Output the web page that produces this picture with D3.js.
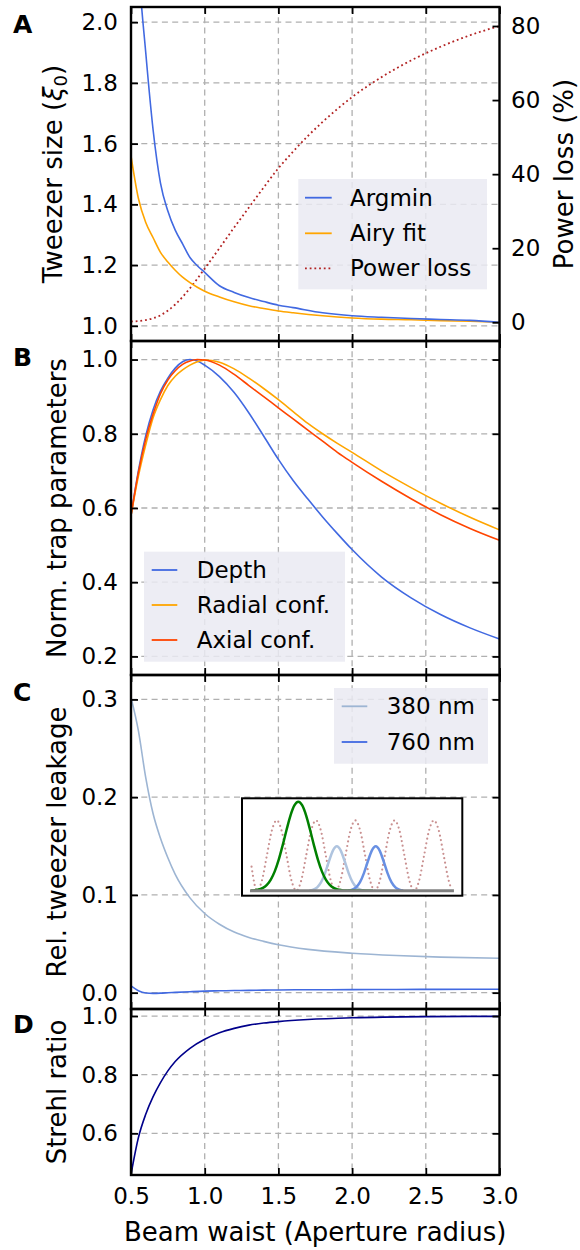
<!DOCTYPE html>
<html>
<head>
<meta charset="utf-8">
<script src="https://cdn.jsdelivr.net/npm/d3@7"></script>
<style>
body{margin:0;background:#fff}
text{font-family:"DejaVu Sans",sans-serif;fill:#000}
</style>
</head>
<body>
<div id="fig"></div>
<script>
let svgWidth = 580;
let svgHeight = 1250;

// shared x values (beam waist, aperture radius units)
let xTicks = [0.5, 1.0, 1.5, 2.0, 2.5, 3.0];

// panel A
let aX = [0.5,0.55,0.6,0.65,0.7,0.75,0.8,0.85,0.9,0.95,1.0,1.1,1.2,1.3,1.4,1.5,1.6,1.8,2.0,2.2,2.4,2.6,2.8,3.0];
let argmin = [2.75,2.2,1.9,1.645,1.47,1.378,1.315,1.27,1.225,1.198,1.176,1.132,1.11,1.093,1.08,1.068,1.06,1.043,1.033,1.028,1.024,1.021,1.018,1.012];
let airyFit = [1.56,1.42,1.34,1.29,1.242,1.21,1.183,1.16,1.142,1.127,1.114,1.095,1.079,1.066,1.057,1.049,1.043,1.033,1.026,1.022,1.02,1.017,1.015,1.012];
let lossX = [0.5,0.6,0.7,0.8,0.9,1.0,1.1,1.2,1.3,1.4,1.5,1.6,1.7,1.8,1.9,2.0,2.2,2.4,2.6,2.8,3.0];
let powerLoss = [0.2,0.6,1.9,4.8,9.2,14.5,20,25.6,31,36.4,41.6,46.1,50.3,54.1,57.6,60.8,66.2,70.7,74.4,77.5,80];

// panel B
let bX = [0.5,0.55,0.6,0.65,0.7,0.75,0.8,0.85,0.9,0.95,1.0,1.1,1.2,1.3,1.4,1.5,1.6,1.7,1.8,1.9,2.0,2.2,2.4,2.6,2.8,3.0];
let depth = [0.58,0.70,0.795,0.865,0.915,0.95,0.977,0.994,1.0,0.996,0.985,0.954,0.911,0.856,0.794,0.731,0.674,0.624,0.576,0.531,0.488,0.414,0.358,0.313,0.277,0.247];
let radial = [0.58,0.685,0.77,0.843,0.892,0.93,0.955,0.972,0.985,0.994,0.999,0.993,0.975,0.95,0.922,0.892,0.86,0.828,0.80,0.774,0.75,0.70,0.655,0.613,0.575,0.541];
let axial = [0.58,0.695,0.785,0.853,0.908,0.945,0.97,0.987,0.996,1.0,0.999,0.985,0.96,0.93,0.90,0.87,0.84,0.81,0.78,0.75,0.723,0.672,0.625,0.582,0.545,0.513];

// panel C
let cX = [0.5,0.55,0.6,0.65,0.7,0.75,0.8,0.9,1.0,1.1,1.2,1.3,1.4,1.5,1.7,2.0,2.3,2.6,3.0];
let leak380 = [0.302,0.268,0.22,0.183,0.158,0.138,0.121,0.097,0.081,0.07,0.062,0.0565,0.0525,0.049,0.0443,0.0404,0.038,0.0364,0.0352];
let leak760 = [0.007,0.002,-0.0003,-0.0007,-0.0005,-0.0001,0.0003,0.001,0.0016,0.0019,0.0022,0.0024,0.0026,0.0028,0.003,0.0031,0.0033,0.0034,0.0035];

// panel D
let dX = [0.5,0.55,0.6,0.65,0.7,0.75,0.8,0.9,1.0,1.1,1.2,1.3,1.4,1.5,1.7,2.0,2.5,3.0];
let strehl = [0.46,0.585,0.665,0.725,0.773,0.813,0.845,0.89,0.921,0.943,0.958,0.969,0.976,0.981,0.988,0.994,0.998,0.999];

// inset of panel C (x in lattice sites, y relative intensity)
let latticeU = [0.36,0.5,0.625,0.75,0.875,1,1.125,1.25,1.375,1.5,1.625,1.75,1.875,2,2.125,2.25,2.375,2.5,2.625,2.75,2.875,3,3.125,3.25,3.375,3.5,3.625,3.75,3.875,4,4.125,4.25,4.375,4.5,4.625,4.75,4.875,5,5.125,5.25,5.375,5.43];
let latticeV = [0.27,0,0.116,0.395,0.674,0.79,0.674,0.395,0.116,0,0.116,0.395,0.674,0.79,0.674,0.395,0.116,0,0.116,0.395,0.674,0.79,0.674,0.395,0.116,0,0.116,0.395,0.674,0.79,0.674,0.395,0.116,0,0.116,0.395,0.674,0.79,0.674,0.395,0.116,0.037];
let greenU = [0.35,0.45,0.55,0.65,0.75,0.85,0.95,1.05,1.15,1.25,1.35,1.45,1.55,1.65,1.75,1.85,1.95,2.05,2.15,2.25,2.35,2.45,2.55,2.65,2.75,3.45];
let greenV = [0.002,0.006,0.014,0.032,0.066,0.125,0.217,0.346,0.507,0.682,0.844,0.958,1,0.958,0.844,0.682,0.507,0.346,0.217,0.125,0.066,0.032,0.014,0.006,0.002,0];
let paleU = [1.83,1.93,2.03,2.13,2.23,2.33,2.43,2.53,2.63,2.73,2.83,2.93,3.03,3.13,3.23];
let blueU = [2.82,2.92,3.02,3.12,3.22,3.32,3.42,3.52,3.62,3.72,3.82,3.92,4.02,4.12,4.22];
let smallPeakV = [0.003,0.012,0.038,0.096,0.198,0.331,0.451,0.5,0.451,0.331,0.198,0.096,0.038,0.012,0.003];
let baseU = [0.32,5.51];
let baseV = [0,0];

let zip = (xs, ys) => xs.map((d, i) => [d, ys[i]]);

let svg = d3.select('#fig')
    .append('svg')
        .attr('width', svgWidth)
        .attr('height', svgHeight);

let x = d3.scaleLinear().domain([0.5, 3.0]).range([131, 499.5]);
let left = 131, right = 499.5;

let panels = [
    {key:'A', top:7, bottom:341, domain:[0.95,2.05], ticks:[1.0,1.2,1.4,1.6,1.8,2.0], label:'Tweezer size', letterY:33, labelX:62},
    {key:'B', top:341, bottom:675, domain:[0.15,1.05], ticks:[0.2,0.4,0.6,0.8,1.0], label:'Norm. trap parameters', letterY:366, labelX:65.5},
    {key:'C', top:675, bottom:1009, domain:[-0.0167,0.325], ticks:[0.0,0.1,0.2,0.3], label:'Rel. tweezer leakage', letterY:700.7, labelX:65.5},
    {key:'D', top:1009, bottom:1175, domain:[0.458,1.024], ticks:[0.6,0.8,1.0], label:'Strehl ratio', letterY:1033, labelX:65.5}
];

let defs = svg.append('defs');
let gridLayer = svg.append('g');
let dataLayer = svg.append('g');
let legendLayer = svg.append('g');
let axisLayer = svg.append('g');

panels.forEach(function(p){
    p.y = d3.scaleLinear().domain(p.domain).range([p.bottom, p.top]);
    defs.append('clipPath').attr('id', 'clip' + p.key)
        .append('rect')
            .attr('x', left).attr('y', p.top)
            .attr('width', right - left).attr('height', p.bottom - p.top);

    // dashed grid
    gridLayer.selectAll(null)
        .data(p.ticks)
        .join('line')
            .attr('x1', left).attr('x2', right)
            .attr('y1', d => p.y(d)).attr('y2', d => p.y(d));
    gridLayer.selectAll(null)
        .data(xTicks.slice(1, -1))
        .join('line')
            .attr('x1', d => x(d)).attr('x2', d => x(d))
            .attr('y1', p.top).attr('y2', p.bottom);
});
gridLayer.selectAll('line')
    .attr('stroke', '#b0b0b0')
    .attr('stroke-width', 1.3)
    .attr('stroke-dasharray', '6,4.3');

function addLine(p, xs, ys, color, width, dash, yScale){
    let ys2 = yScale || p.y;
    let path = dataLayer.append('path')
        .datum(zip(xs, ys))
        .attr('clip-path', `url(#clip${p.key})`)
        .attr('fill', 'none')
        .attr('stroke', color)
        .attr('stroke-width', width)
        .attr('d', d3.line().x(d => x(d[0])).y(d => ys2(d[1])).curve(d3.curveMonotoneX));
    if(dash) path.attr('stroke-dasharray', dash);
    return path;
}

let [pA, pB, pC, pD] = panels;
let yLoss = d3.scaleLinear().domain([-5.05, 85.13]).range([pA.bottom, pA.top]);

addLine(pA, lossX, powerLoss, '#b22222', 1.8, '1.8,2.9', yLoss);
addLine(pA, aX, airyFit, '#ffa500', 1.6);
addLine(pA, aX, argmin, '#4169e1', 1.6);

addLine(pB, bX, depth, '#4169e1', 1.6);
addLine(pB, bX, radial, '#ffa500', 1.6);
addLine(pB, bX, axial, '#ff4500', 1.6);

addLine(pC, cX, leak380, '#9db5d3', 1.6);
addLine(pC, cX, leak760, '#4169e1', 1.6);

addLine(pD, dX, strehl, '#00008b', 1.6);

// legends
function legend(x0, y0, x1, y1, rows, h0, h1, tx){
    let g = legendLayer.append('g');
    g.append('rect')
        .attr('x', x0).attr('y', y0)
        .attr('width', x1 - x0).attr('height', y1 - y0)
        .attr('fill', '#eaeaf2').attr('fill-opacity', 0.85);
    rows.forEach(function(r){
        let l = g.append('line')
            .attr('x1', h0).attr('x2', h1)
            .attr('y1', r.y).attr('y2', r.y)
            .attr('stroke', r.color).attr('stroke-width', 1.8);
        if(r.dash) l.attr('stroke-dasharray', r.dash);
        g.append('text')
            .attr('x', tx).attr('y', r.y).attr('dy', '0.35em')
            .attr('font-size', 23)
            .text(r.label);
    });
}

legend(298.3, 179, 487, 289.3, [
    {label:'Argmin', color:'#4169e1', y:197.7},
    {label:'Airy fit', color:'#ffa500', y:233.3},
    {label:'Power loss', color:'#b22222', y:268.3, dash:'1.8,2.9'}
], 305, 331.7, 350);

legend(144, 551.7, 345, 661.7, [
    {label:'Depth', color:'#4169e1', y:570},
    {label:'Radial conf.', color:'#ffa500', y:605},
    {label:'Axial conf.', color:'#ff4500', y:640}
], 151.7, 177.3, 196.7);

legend(334, 688, 488, 763.7, [
    {label:'380 nm', color:'#9db5d3', y:706.3},
    {label:'760 nm', color:'#4169e1', y:742}
], 341.7, 367.3, 386.7);

// inset in panel C
let ix = d3.scaleLinear().domain([0, 5]).range([237.4, 433.9]);
let iy = d3.scaleLinear().domain([0, 1]).range([890.7, 801.7]);
let inset = legendLayer.append('g');
inset.append('rect')
    .attr('x', 242).attr('y', 798.3)
    .attr('width', 220.3).attr('height', 97.4)
    .attr('fill', '#fff').attr('stroke', '#000').attr('stroke-width', 2);
let iline = d3.line().x(d => ix(d[0])).y(d => iy(d[1])).curve(d3.curveMonotoneX);
inset.append('path').datum(zip(latticeU, latticeV))
    .attr('d', iline).attr('fill', 'none')
    .attr('stroke', '#c99090').attr('stroke-width', 2.2)
    .attr('stroke-linecap', 'round').attr('stroke-dasharray', '0,4.6');
inset.append('path').datum(zip(paleU, smallPeakV))
    .attr('d', iline).attr('fill', 'none')
    .attr('stroke', '#afc4df').attr('stroke-width', 2.5);
inset.append('path').datum(zip(blueU, smallPeakV))
    .attr('d', iline).attr('fill', 'none')
    .attr('stroke', '#6890e3').attr('stroke-width', 2.5);
inset.append('path').datum(zip(greenU, greenV))
    .attr('d', iline).attr('fill', 'none')
    .attr('stroke', '#008000').attr('stroke-width', 2.5);
inset.append('path').datum(zip(baseU, baseV))
    .attr('d', iline).attr('fill', 'none')
    .attr('stroke', '#808080').attr('stroke-width', 3);

// axes, ticks pointing inward
let fmt = d3.format('.1f');
panels.forEach(function(p){
    let isLast = p.key === 'D';
    axisLayer.append('g').attr('transform', `translate(${left},0)`)
        .call(d3.axisLeft(p.y).tickValues(p.ticks).tickSize(-7).tickPadding(13).tickFormat(fmt));
    if(p.key === 'A'){
        axisLayer.append('g').attr('transform', `translate(${right},0)`)
            .call(d3.axisRight(yLoss).tickValues([0,20,40,60,80]).tickSize(-7).tickPadding(11.5));
    } else {
        axisLayer.append('g').attr('transform', `translate(${right},0)`)
            .call(d3.axisRight(p.y).tickValues(p.ticks).tickSize(-7).tickFormat(''));
    }
    axisLayer.append('g').attr('transform', `translate(0,${p.top})`)
        .call(d3.axisTop(x).tickValues(xTicks).tickSize(-7).tickFormat(''));
    axisLayer.append('g').attr('transform', `translate(0,${p.bottom})`)
        .call(d3.axisBottom(x).tickValues(xTicks).tickSize(-7).tickPadding(13)
            .tickFormat(isLast ? fmt : ''));

    axisLayer.append('rect')
        .attr('x', left).attr('y', p.top)
        .attr('width', right - left).attr('height', p.bottom - p.top)
        .attr('fill', 'none').attr('stroke', '#000').attr('stroke-width', 2.4);

    axisLayer.append('text')
        .attr('x', 13).attr('y', p.letterY)
        .attr('font-size', 25).attr('font-weight', 'bold')
        .text(p.key);

    let lab = axisLayer.append('text')
        .attr('transform', `translate(${p.labelX},${(p.top + p.bottom) / 2}) rotate(-90)`)
        .attr('text-anchor', 'middle')
        .attr('font-size', 26)
        .text(p.label);
    if(p.key === 'A'){
        lab.append('tspan').text(' (');
        lab.append('tspan').attr('font-style', 'italic').text('ξ');
        lab.append('tspan').attr('font-size', 18).attr('dy', 5).text('0');
        lab.append('tspan').attr('dy', -5).text(')');
    }
});

axisLayer.selectAll('.domain').remove();
axisLayer.selectAll('.tick line').attr('stroke', '#000').attr('stroke-width', 1.8);
axisLayer.selectAll('.tick text').attr('font-size', 23).attr('font-family', '"DejaVu Sans", sans-serif').attr('fill', '#000');

axisLayer.append('text')
    .attr('transform', 'translate(573,174) rotate(-90)')
    .attr('text-anchor', 'middle')
    .attr('font-size', 26)
    .text('Power loss (%)');

axisLayer.append('text')
    .attr('x', (left + right) / 2).attr('y', 1240.7)
    .attr('text-anchor', 'middle')
    .attr('font-size', 26)
    .text('Beam waist (Aperture radius)');
</script>
</body>
</html>
